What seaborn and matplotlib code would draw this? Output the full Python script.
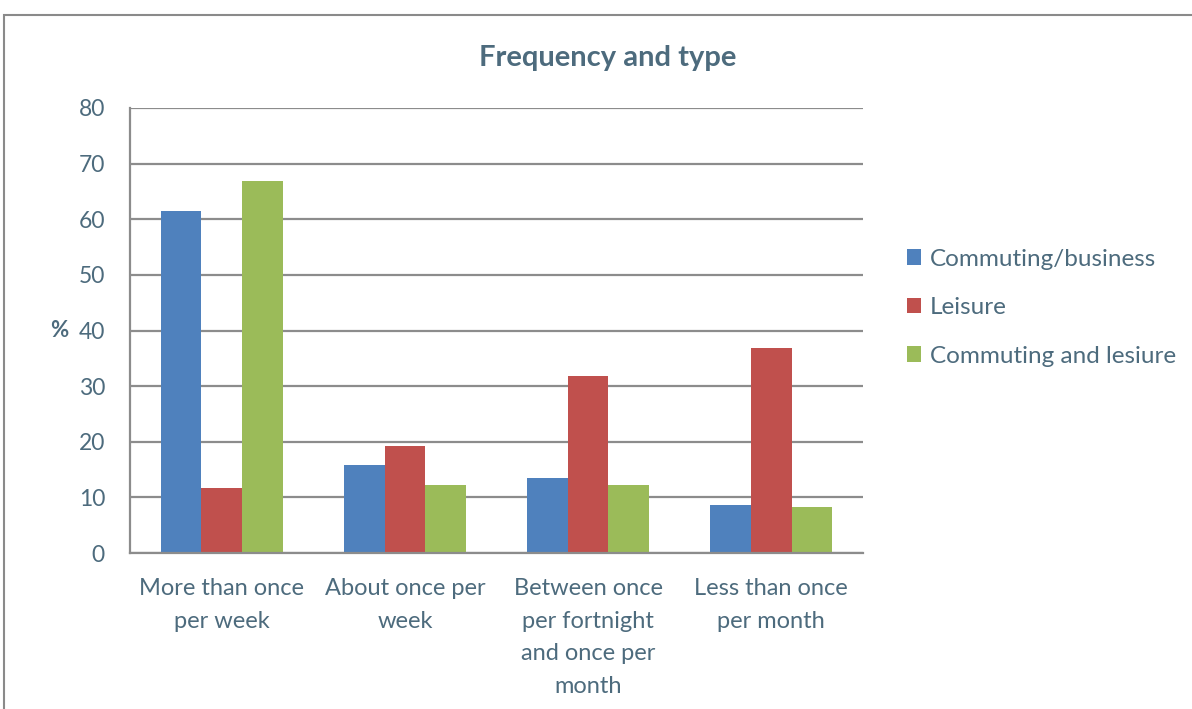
import matplotlib
matplotlib.use("Agg")
import matplotlib.pyplot as plt
import seaborn as sns
import pandas as pd
from matplotlib.patches import Rectangle

categories = [
    "More than once\nper week",
    "About once per\nweek",
    "Between once\nper fortnight\nand once per\nmonth",
    "Less than once\nper month",
]
series_names = ["Commuting/business", "Leisure", "Commuting and lesiure"]
commuting_business = [61.5, 15.8, 13.4, 8.7]
leisure = [11.6, 19.2, 31.9, 36.9]
commuting_and_leisure = [66.8, 12.3, 12.3, 8.2]
y_ticks = [0, 10, 20, 30, 40, 50, 60, 70, 80]

colors = ["#4F81BD", "#C0504D", "#9BBB59"]
text_color = "#4D6B7D"
grid_color = "#8C8C8C"

df = pd.DataFrame({
    "category": categories * 3,
    "series": [series_names[0]] * 4 + [series_names[1]] * 4 + [series_names[2]] * 4,
    "value": commuting_business + leisure + commuting_and_leisure,
})

sns.set_theme(style="white")
plt.rcParams["font.family"] = ["Lato", "DejaVu Sans"]

fig = plt.figure(figsize=(11.92, 7.09), dpi=100)
ax = fig.add_axes([130 / 1192, 1 - 553 / 709, 733 / 1192, 445 / 709])

sns.barplot(
    data=df, x="category", y="value", hue="series", order=categories,
    hue_order=series_names, palette=colors, width=0.667, gap=0,
    saturation=1, ax=ax, legend=True, edgecolor="none", linewidth=0,
)

ax.set_xlim(-0.5, 3.5)
ax.set_ylim(0, 80)
ax.set_yticks(y_ticks)
ax.set_yticklabels([str(v) for v in y_ticks], color=text_color, fontsize=16.5)
ax.yaxis.grid(True, color=grid_color, linewidth=1.6)
ax.set_axisbelow(True)

ax.set_xticks(range(len(categories)))
ax.set_xticklabels(categories, color=text_color, fontsize=17, linespacing=1.68)
ax.tick_params(axis="x", which="major", length=0, pad=18)
ax.set_xticks([-0.5, 0.5, 1.5, 2.5, 3.5], minor=True)
ax.tick_params(axis="x", which="minor", length=6, width=1.6, color=grid_color, direction="out")
ax.tick_params(axis="y", which="major", length=6, width=1.6, color=grid_color, direction="out", pad=12)

for side in ["top", "right"]:
    ax.spines[side].set_visible(False)
for side in ["left", "bottom"]:
    ax.spines[side].set_color(grid_color)
    ax.spines[side].set_linewidth(1.6)

ax.set_xlabel("")
ax.set_ylabel("%", color=text_color, fontsize=16, fontweight="bold", rotation=0, labelpad=14, va="center")

leg = ax.legend(
    loc="upper left", bbox_to_anchor=(897 / 1192, 1 - 239 / 709),
    bbox_transform=fig.transFigure, frameon=False,
    fontsize=17.5, handlelength=0.6, handleheight=0.6, handletextpad=0.35,
    labelspacing=1.13, borderaxespad=0,
)
for t in leg.get_texts():
    t.set_color(text_color)

fig.text(608 / 1192, 1 - 58 / 709, "Frequency and type", ha="center", va="center",
         fontsize=21, fontweight="bold", color=text_color)

fig.patches.append(Rectangle((4 / 1192, -0.05), 1.1, 1 - 15 / 709 + 0.05,
                             transform=fig.transFigure, fill=False,
                             edgecolor="#8A8A8A", linewidth=1.5))

fig.savefig("out.png", dpi=100)
